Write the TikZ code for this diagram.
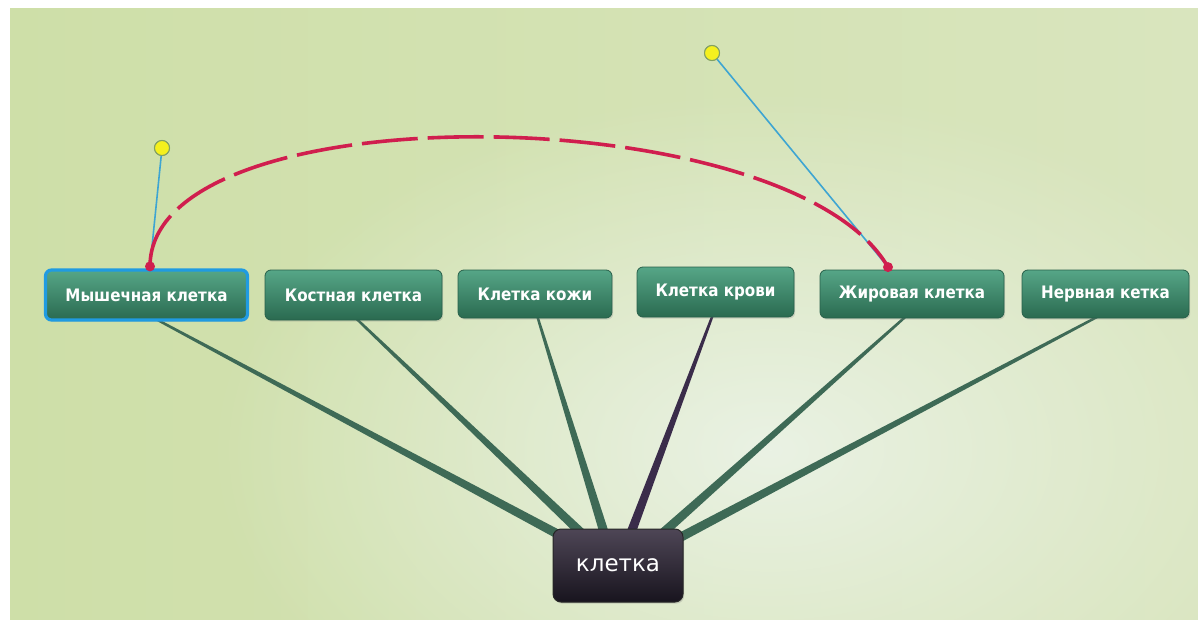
\documentclass[tikz,border=0pt]{standalone}
\usepackage{fontspec}
\newfontfamily\cf{DejaVu Sans}[FakeStretch=0.88]
\newfontfamily\hf{DejaVu Sans}
\usetikzlibrary{calc,fadings,shadows}
\definecolor{bgL}{RGB}{206,223,168}
\definecolor{bgR}{RGB}{217,229,190}
\definecolor{glowC}{RGB}{234,242,228}
\definecolor{boxT}{RGB}{86,166,135}
\definecolor{boxM}{RGB}{62,140,110}
\definecolor{boxB}{RGB}{42,106,80}
\definecolor{boxD}{RGB}{40,96,74}
\definecolor{hubT}{RGB}{78,70,86}
\definecolor{hubM}{RGB}{40,34,48}
\definecolor{hubB}{RGB}{24,20,30}
\definecolor{conG}{RGB}{62,106,86}
\definecolor{conP}{RGB}{58,44,74}
\definecolor{selB}{RGB}{32,155,225}
\definecolor{hndB}{RGB}{62,165,210}
\definecolor{hndY}{RGB}{245,240,30}
\definecolor{hndE}{RGB}{130,160,100}
\definecolor{relR}{RGB}{208,30,78}
\pgfdeclarelayer{bg}\pgfdeclarelayer{conn}\pgfsetlayers{bg,conn,main}
\tikzfading[name=glowfade, inner color=transparent!0, outer color=transparent!100]
\newcommand\taperline[3]{\fill[#3] ($(#1)!0.6pt!90:(#2)$) -- ($(#2)!2.3pt!-90:(#1)$) -- ($(#2)!2.3pt!90:(#1)$) -- ($(#1)!0.6pt!-90:(#2)$) -- cycle;}
\tikzset{
  childbox/.style={rounded corners=3pt, top color=boxT, middle color=boxM, bottom color=boxB,
    draw=boxD, line width=0.4pt, text=white, font=\cf\bfseries\fontsize{8.6}{10}\selectfont,
    inner sep=0pt, drop shadow={opacity=0.25, shadow xshift=0.6pt, shadow yshift=-0.8pt}},
  hubbox/.style={rounded corners=4pt, top color=hubT, middle color=hubM, bottom color=hubB,
    draw=black!85, line width=0.5pt, text=white, font=\hf\fontsize{11.5}{13}\selectfont,
    inner sep=0pt, minimum width=65pt, minimum height=36pt,
    drop shadow={opacity=0.3, shadow xshift=0.6pt, shadow yshift=-0.8pt}},
  handle/.style={circle, fill=hndY, draw=hndE, line width=0.5pt, minimum size=7.5pt, inner sep=0pt},
  enddot/.style={circle, fill=relR, minimum size=5pt, inner sep=0pt},
  handleline/.style={draw=hndB, line width=0.8pt},
  relation/.style={draw=relR, line width=1.8pt, dash pattern=on 28pt off 5pt}
}
\begin{document}
\begin{tikzpicture}[x=0.5pt,y=-0.5pt]
\useasboundingbox (0,0) rectangle (1198,620);
\begin{pgfonlayer}{bg}
  \fill[white] (0,0) rectangle (1198,620);
  \fill[left color=bgL, right color=bgR] (10,9) rectangle (1198,620);
  \begin{scope}
    \clip (10,9) rectangle (1198,620);
    \fill[glowC, path fading=glowfade] (770,450) ellipse [x radius=560, y radius=360];
  \end{scope}
\end{pgfonlayer}

% child nodes
\node[childbox, draw=selB, line width=1.6pt, minimum width=101pt, minimum height=25pt] (m) at (146.5,295) {Мышечная клетка};
\node[childbox, minimum width=88.5pt, minimum height=25pt] (ko) at (353.5,295) {Костная клетка};
\node[childbox, minimum width=77pt, minimum height=24pt] (kz) at (535,294) {Клетка кожи};
\node[childbox, minimum width=78.5pt, minimum height=25pt] (kr) at (715.5,292) {Клетка крови};
\node[childbox, minimum width=92pt, minimum height=24pt] (zh) at (912,294) {Жировая клетка};
\node[childbox, minimum width=83.5pt, minimum height=24pt] (ne) at (1105.5,294) {Нервная кетка};
% hub
\node[hubbox, minimum width=65pt, minimum height=36.5pt, text depth=-2pt] (hub) at (618,565.5) {клетка};

% connector end points
\coordinate (mA) at ($(m.south)+(8.5,-3)$);
\coordinate (koA) at ($(ko.south)+(1.5,-3)$);
\coordinate (kzA) at ($(kz.south)+(2,-3)$);
\coordinate (krA) at ($(kr.south)+(-2.5,-3)$);
\coordinate (zhA) at ($(zh.south)+(-5,-3)$);
\coordinate (neA) at ($(ne.south)+(-5.5,-3)$);
\coordinate (hm) at ($(hub.north)+(-54,9)$);
\coordinate (hko) at ($(hub.north)+(-34,7)$);
\coordinate (hkz) at ($(hub.north)+(-13,7)$);
\coordinate (hkr) at ($(hub.north)+(12,7)$);
\coordinate (hzh) at ($(hub.north)+(42,7)$);
\coordinate (hne) at ($(hub.north)+(62,9)$);

\begin{pgfonlayer}{conn}
  \taperline{mA}{hm}{conG}
  \taperline{koA}{hko}{conG}
  \taperline{kzA}{hkz}{conG}
  \taperline{krA}{hkr}{conP}
  \taperline{zhA}{hzh}{conG}
  \taperline{neA}{hne}{conG}
\end{pgfonlayer}

% relation with handles
\coordinate (r1) at ($(m.north)+(3.5,-2)$);
\coordinate (r2) at ($(zh.north)+(-24,-2.5)$);
\node[handle] (y1) at (162,148) {};
\node[handle] (y2) at (712,53) {};
\draw[handleline] (r1) -- (y1);
\draw[handleline] (r2) -- (y2);
\draw[relation] (r1) .. controls (150,90) and (790,97) .. (r2);
\node[enddot] (d1) at (r1) {};
\node[enddot] (d2) at (r2) {};
\node[handle] at (y1) {};
\node[handle] at (y2) {};
\end{tikzpicture}
\end{document}
